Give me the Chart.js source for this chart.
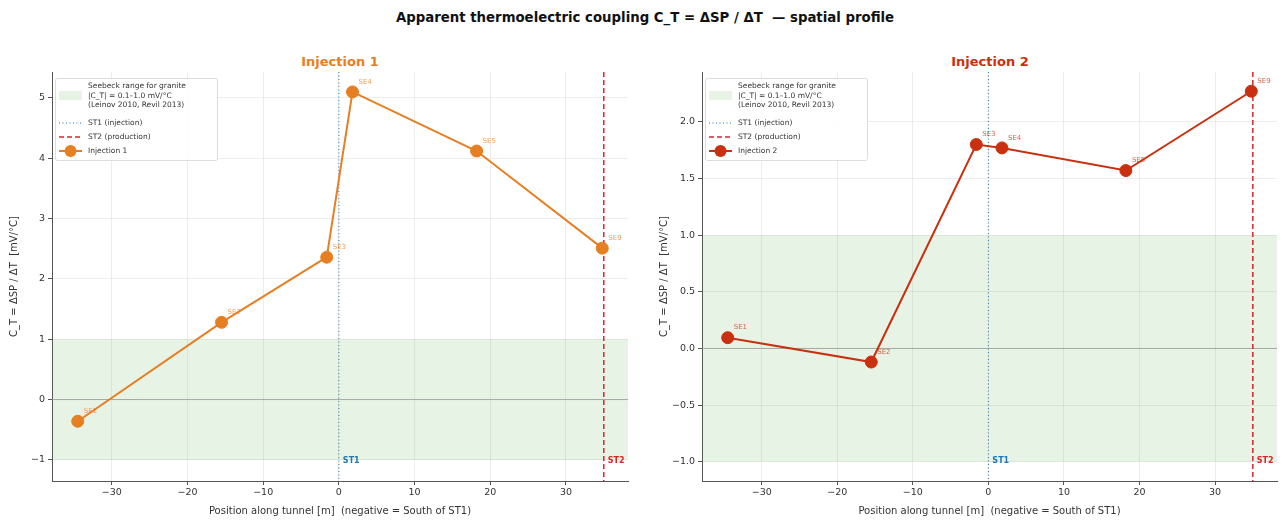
<!DOCTYPE html>
<html>
<head>
<meta charset="utf-8">
<script src="https://cdn.jsdelivr.net/npm/chart.js@4/dist/chart.umd.min.js"></script>
<style>
  html, body { margin: 0; padding: 0; background: #fff; }
  body { width: 1284px; height: 521px; position: relative; overflow: hidden; font-family: "DejaVu Sans", sans-serif; }
  .panel { position: absolute; top: 0; }
  #p1 { left: 0; }
  #p2 { left: 640px; }
  .ttl { position: absolute; white-space: pre; transform: translateX(-50%); font-weight: bold; line-height: 1; }
  #suptitle { left: 645px; top: 11px; font-size: 13.3px; color: #111; }
  #t1 { left: 340px; top: 55px; font-size: 13px; color: #e67e22; }
  #t2 { left: 990px; top: 55px; font-size: 13px; color: #c9300f; }
</style>
</head>
<body>
<div id="suptitle" class="ttl">Apparent thermoelectric coupling C_T = ΔSP / ΔT  — spatial profile</div>
<div id="t1" class="ttl">Injection 1</div>
<div id="t2" class="ttl">Injection 2</div>
<canvas id="p1" class="panel" width="640" height="521"></canvas>
<canvas id="p2" class="panel" width="644" height="521"></canvas>
<script>
"use strict";

// sensor positions along the tunnel (m, negative = south of ST1)
const positions = [-34.5, -15.5, -1.6, 1.8, 18.2, 34.8];
const sensorNames = ["SE1", "SE2", "SE3", "SE4", "SE5", "SE9"];

// apparent coupling C_T per sensor (mV/°C)
const ctInjection1 = [-0.36, 1.28, 2.36, 5.10, 4.12, 2.51];
const ctInjection2 = [0.095, -0.12, 1.80, 1.77, 1.57, 2.27];

// reference features
const ST1_POS = 0;
const ST2_POS = 35;
const seebeckRange = [-1.0, 1.0];
const xLimits = [-37.9, 38.2];
const xTicks = [-30, -20, -10, 0, 10, 20, 30];

const BAND_FILL = "rgba(46,160,44,0.12)";
const ST1_COLOR = "#1f77b4";
const ST2_COLOR = "#d62728";
const FONT = "'DejaVu Sans', sans-serif";

const panels = [
  { id: "p1", label: "Injection 1", color: "#e67e22", values: ctInjection1,
    yMin: -1.35, yMax: 5.43, yStep: 1, yDec: 0, yWidth: 52, padRight: 12, titlePad: 8 },
  { id: "p2", label: "Injection 2", color: "#c9300f", values: ctInjection2,
    yMin: -1.17, yMax: 2.44, yStep: 0.5, yDec: 1, yWidth: 62, padRight: 6, titlePad: 18 },
];

function minus(v) { return String(v).replace("-", "\u2212"); }

// band, zero line and the two well markers go under the data
const backdrop = {
  id: "backdrop",
  beforeDatasetsDraw(chart) {
    const { ctx, chartArea: a, scales: { x, y } } = chart;
    ctx.save();
    ctx.beginPath();
    ctx.rect(a.left, a.top, a.right - a.left, a.bottom - a.top);
    ctx.clip();

    const yb = y.getPixelForValue(seebeckRange[0]);
    const yt = y.getPixelForValue(seebeckRange[1]);
    ctx.fillStyle = BAND_FILL;
    ctx.fillRect(a.left, yt, a.right - a.left, yb - yt);

    const y0 = y.getPixelForValue(0);
    ctx.strokeStyle = "#999";
    ctx.lineWidth = 0.8;
    ctx.beginPath(); ctx.moveTo(a.left, y0); ctx.lineTo(a.right, y0); ctx.stroke();

    const x1 = x.getPixelForValue(ST1_POS);
    ctx.strokeStyle = ST1_COLOR;
    ctx.lineWidth = 1;
    ctx.setLineDash([1, 2.5]);
    ctx.beginPath(); ctx.moveTo(x1, a.top); ctx.lineTo(x1, a.bottom); ctx.stroke();

    const x2 = x.getPixelForValue(ST2_POS);
    ctx.strokeStyle = ST2_COLOR;
    ctx.lineWidth = 1.5;
    ctx.setLineDash([5, 3]);
    ctx.beginPath(); ctx.moveTo(x2, a.top); ctx.lineTo(x2, a.bottom); ctx.stroke();
    ctx.setLineDash([]);

    const ty = a.bottom - 20;
    ctx.font = "bold 8px " + FONT;
    ctx.textBaseline = "middle";
    ctx.textAlign = "left";
    ctx.fillStyle = ST1_COLOR;
    ctx.fillText("ST1", x1 + 4, ty);
    ctx.fillStyle = ST2_COLOR;
    ctx.fillText("ST2", x2 + 4, ty);
    ctx.restore();
  },
};

// sensor names beside each point
const pointNames = {
  id: "pointNames",
  afterDatasetsDraw(chart, args, opts) {
    const { ctx } = chart;
    const meta = chart.getDatasetMeta(0);
    ctx.save();
    ctx.font = "7px " + FONT;
    ctx.fillStyle = opts.color;
    ctx.globalAlpha = 0.75;
    ctx.textBaseline = "middle";
    ctx.textAlign = "left";
    meta.data.forEach((pt, i) => {
      ctx.fillText(sensorNames[i], pt.x + 6, pt.y - 10);
    });
    ctx.restore();
  },
};

// legend box in the upper left corner
const legendBox = {
  id: "legendBox",
  afterDraw(chart, args, opts) {
    const { ctx, chartArea: a } = chart;
    const bx = a.left + 3, by = a.top + 6, bw = 162, bh = 82;
    ctx.save();
    ctx.fillStyle = "rgba(255,255,255,0.85)";
    ctx.strokeStyle = "#d4d4d4";
    ctx.lineWidth = 0.8;
    ctx.beginPath();
    ctx.roundRect(bx + 0.5, by + 0.5, bw, bh, 2);
    ctx.fill(); ctx.stroke();

    const hx0 = bx + 4, hx1 = bx + 27, tx = bx + 33;
    ctx.font = "7.5px " + FONT;
    ctx.fillStyle = "#333";
    ctx.textBaseline = "middle";
    ctx.textAlign = "left";
    const lines = ["Seebeck range for granite", "|C_T| = 0.1\u20131.0 mV/\u00b0C", "(Leinov 2010, Revil 2013)"];
    lines.forEach((t, i) => ctx.fillText(t, tx, by + 8 + i * 9.7));
    ctx.fillText("ST1 (injection)", tx, by + 45);
    ctx.fillText("ST2 (production)", tx, by + 59);
    ctx.fillText(opts.label, tx, by + 73);

    ctx.fillStyle = BAND_FILL;
    ctx.fillRect(hx0, by + 13, hx1 - hx0, 9);

    ctx.lineWidth = 1;
    ctx.strokeStyle = ST1_COLOR;
    ctx.setLineDash([1, 2.5]);
    ctx.beginPath(); ctx.moveTo(hx0, by + 45); ctx.lineTo(hx1, by + 45); ctx.stroke();
    ctx.strokeStyle = ST2_COLOR;
    ctx.lineWidth = 1.5;
    ctx.setLineDash([5, 3]);
    ctx.beginPath(); ctx.moveTo(hx0, by + 59); ctx.lineTo(hx1, by + 59); ctx.stroke();
    ctx.setLineDash([]);

    ctx.strokeStyle = opts.color;
    ctx.lineWidth = 2;
    ctx.beginPath(); ctx.moveTo(hx0, by + 73); ctx.lineTo(hx1, by + 73); ctx.stroke();
    ctx.fillStyle = opts.color;
    ctx.beginPath(); ctx.arc((hx0 + hx1) / 2, by + 73, 6, 0, Math.PI * 2); ctx.fill();
    ctx.restore();
  },
};

function axisTitle(text, outer) {
  return { display: true, text, color: "#333", font: { family: FONT, size: 10 }, padding: { top: outer, bottom: 4 } };
}

panels.forEach((p) => {
  new Chart(document.getElementById(p.id), {
    type: "scatter",
    data: {
      datasets: [{
        label: p.label,
        data: positions.map((x, i) => ({ x, y: p.values[i] })),
        showLine: true,
        borderColor: p.color,
        backgroundColor: p.color,
        borderWidth: 2,
        pointRadius: 6,
        pointBorderWidth: 1,
        pointBorderColor: p.color,
        pointBackgroundColor: p.color,
      }],
    },
    plugins: [backdrop, pointNames, legendBox],
    options: {
      responsive: false,
      animation: false,
      devicePixelRatio: 1,
      layout: { padding: { top: 72, left: 0, right: p.padRight, bottom: 0 } },
      plugins: {
        legend: { display: false },
        title: { display: false },
        tooltip: { enabled: false },
        pointNames: { color: p.color },
        legendBox: { color: p.color, label: p.label },
      },
      scales: {
        x: {
          type: "linear",
          min: xLimits[0], max: xLimits[1],
          afterFit(s) { s.height = 40; },
          afterBuildTicks(s) { s.ticks = xTicks.map((v) => ({ value: v })); },
          ticks: { color: "#333", font: { family: FONT, size: 9.5 }, padding: 2,
                   callback: (v) => minus(v) },
          grid: { color: "rgba(0,0,0,0.07)", tickColor: "#555", tickLength: 4 },
          border: { color: "#555", width: 1 },
          title: axisTitle("Position along tunnel [m]  (negative = South of ST1)", 2),
        },
        y: {
          min: p.yMin, max: p.yMax,
          afterFit(s) { s.width = p.yWidth; },
          ticks: { stepSize: p.yStep, includeBounds: false, color: "#333",
                   font: { family: FONT, size: 9.5 }, padding: 3,
                   callback: (v) => minus(Number(v).toFixed(p.yDec)) },
          grid: { color: "rgba(0,0,0,0.07)", tickColor: "#555", tickLength: 4 },
          border: { color: "#555", width: 1 },
          title: axisTitle("C_T = ΔSP / ΔT  [mV/°C]", p.titlePad),
        },
      },
    },
  });
});
</script>
</body>
</html>
